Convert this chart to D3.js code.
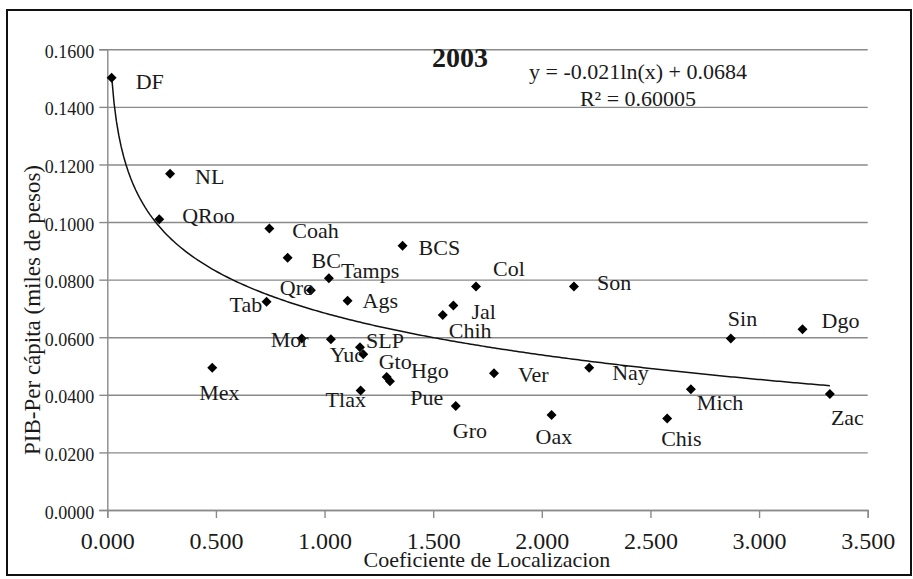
<!DOCTYPE html>
<html>
<head>
<meta charset="utf-8">
<script src="https://cdn.jsdelivr.net/npm/d3@7"></script>
<style>
  body { margin: 0; background: #fff; }
  svg text { font-family: "Liberation Serif", "Times New Roman", serif; fill: #1a1a1a; }
</style>
</head>
<body>
<div id="chart"></div>
<script>
// Datos: entidad, coeficiente de localizacion, PIB per capita
const estados = ['DF','NL','QRoo','Coah','BC','Tamps','Qro','BCS','Ags','Tab','Mor','Yuc','SLP','Pue','Gto','Hgo','Tlax','Mex','Gro','Col','Son','Jal','Chih','Ver','Nay','Sin','Dgo','Mich','Zac','Chis','Oax'];
const coefLoc = [0.020,0.289,0.239,0.746,0.830,1.020,0.937,1.359,1.106,0.733,0.895,1.029,1.163,1.178,1.286,1.301,1.166,0.483,1.604,1.697,2.148,1.593,1.544,1.780,2.218,2.870,3.200,2.686,3.326,2.577,2.045];
const pibPc = [0.1501,0.1168,0.1010,0.0978,0.0876,0.0805,0.0763,0.0918,0.0727,0.0723,0.0596,0.0593,0.0565,0.0541,0.0462,0.0447,0.0415,0.0494,0.0361,0.0776,0.0776,0.0710,0.0677,0.0475,0.0494,0.0596,0.0628,0.0419,0.0403,0.0318,0.0330];

// Desplazamiento de cada etiqueta respecto a su punto (px)
const etiquetaDx = [24,25,23,23,24,12,-31,16,15,-37,-31,-1,6,47,-8,21,-35,-13,-3,17,23,18,6,24,23,-3,19,6,1,-6,-16];
const etiquetaDy = [11,10,4,10,10,0,5,9,7,10,9,23,1,51,-8,-3,16,32,32,-11,3,13,23,9,12,-12,-1,21,31,28,29];

const xTicks = [0, 0.5, 1, 1.5, 2, 2.5, 3, 3.5];
const yTicks = [0, 0.02, 0.04, 0.06, 0.08, 0.10, 0.12, 0.14, 0.16];

// Tendencia logaritmica: y = -0.021 ln(x) + 0.0684
const tendA = -0.021, tendB = 0.0684;

const W = 913, H = 579;
const margin = { top: 49.3, left: 107.3, right: 45.3, bottom: 69 };
const width = W - margin.left - margin.right;
const height = H - margin.top - margin.bottom;

const svg = d3.select('#chart').append('svg')
  .attr('width', W).attr('height', H);

// Marco exterior
svg.append('rect')
  .attr('x', 7).attr('y', 10).attr('width', 904).attr('height', 565)
  .attr('fill', 'none').attr('stroke', '#111').attr('stroke-width', 2);

const g = svg.append('g').attr('transform', `translate(${margin.left},${margin.top})`);

const x = d3.scaleLinear().domain([0, 3.5]).range([0, width]);
const y = d3.scaleLinear().domain([0, 0.16]).range([height, 0]);

// Lineas de cuadricula
g.append('g')
  .call(d3.axisLeft(y).tickValues(yTicks).tickSize(-width).tickFormat(''))
  .call(s => s.select('.domain').remove())
  .call(s => s.selectAll('line').attr('stroke', '#8a8a8a').attr('stroke-width', 1.4));

// Eje Y
const ejeY = g.append('g')
  .call(d3.axisLeft(y).tickValues(yTicks).tickSize(8).tickPadding(5).tickFormat(d3.format('.4f')));
ejeY.select('.domain').attr('stroke', '#8a8a8a').attr('stroke-width', 1.4);
ejeY.selectAll('line').attr('stroke', '#8a8a8a').attr('stroke-width', 1.4);
ejeY.selectAll('text').attr('font-size', 18).attr('fill', '#1a1a1a').attr('dy', '0.45em');

// Eje X
const ejeX = g.append('g')
  .attr('transform', `translate(0,${height})`)
  .call(d3.axisBottom(x).tickValues(xTicks).tickSize(8).tickPadding(14).tickFormat(d3.format('.3f')));
ejeX.select('.domain').attr('stroke', '#8a8a8a').attr('stroke-width', 1.4);
ejeX.selectAll('line').attr('stroke', '#8a8a8a').attr('stroke-width', 1.4);
ejeX.selectAll('text').attr('font-size', 24).attr('fill', '#1a1a1a');

// Linea de tendencia
const xs = d3.range(0, 301).map(i => d3.min(coefLoc) + (d3.max(coefLoc) - d3.min(coefLoc)) * i / 300);
g.append('path')
  .datum(xs)
  .attr('fill', 'none')
  .attr('stroke', '#111')
  .attr('stroke-width', 1.5)
  .attr('d', d3.line().x(d => x(d)).y(d => y(tendA * Math.log(d) + tendB)));

// Puntos
const datos = estados.map((e, i) => ({ e, cx: coefLoc[i], py: pibPc[i], dx: etiquetaDx[i], dy: etiquetaDy[i] }));
g.selectAll('.pt')
  .data(datos)
  .enter().append('path')
  .attr('class', 'pt')
  .attr('transform', d => `translate(${x(d.cx)},${y(d.py)}) rotate(45)`)
  .attr('d', d3.symbol().type(d3.symbolSquare).size(50))
  .attr('fill', '#000');

// Etiquetas de los puntos
g.selectAll('.lbl')
  .data(datos)
  .enter().append('text')
  .attr('class', 'lbl')
  .attr('x', d => x(d.cx) + d.dx)
  .attr('y', d => y(d.py) + d.dy)
  .attr('font-size', 22)
  .text(d => d.e);

// Titulo y ecuacion
svg.append('text').attr('x', 460).attr('y', 67).attr('text-anchor', 'middle')
  .attr('font-size', 28).attr('font-weight', 'bold').text('2003');
svg.append('text').attr('x', 638).attr('y', 79).attr('text-anchor', 'middle')
  .attr('font-size', 22).text('y = -0.021ln(x) + 0.0684');
svg.append('text').attr('x', 638).attr('y', 106).attr('text-anchor', 'middle')
  .attr('font-size', 22).text('R² = 0.60005');

// Titulos de ejes
svg.append('text').attr('x', 487).attr('y', 567).attr('text-anchor', 'middle')
  .attr('font-size', 22).text('Coeficiente de Localizacion');
svg.append('text').attr('transform', 'translate(40,310) rotate(-90)').attr('text-anchor', 'middle')
  .attr('font-size', 23).text('PIB-Per cápita (miles de pesos)');
</script>
</body>
</html>
